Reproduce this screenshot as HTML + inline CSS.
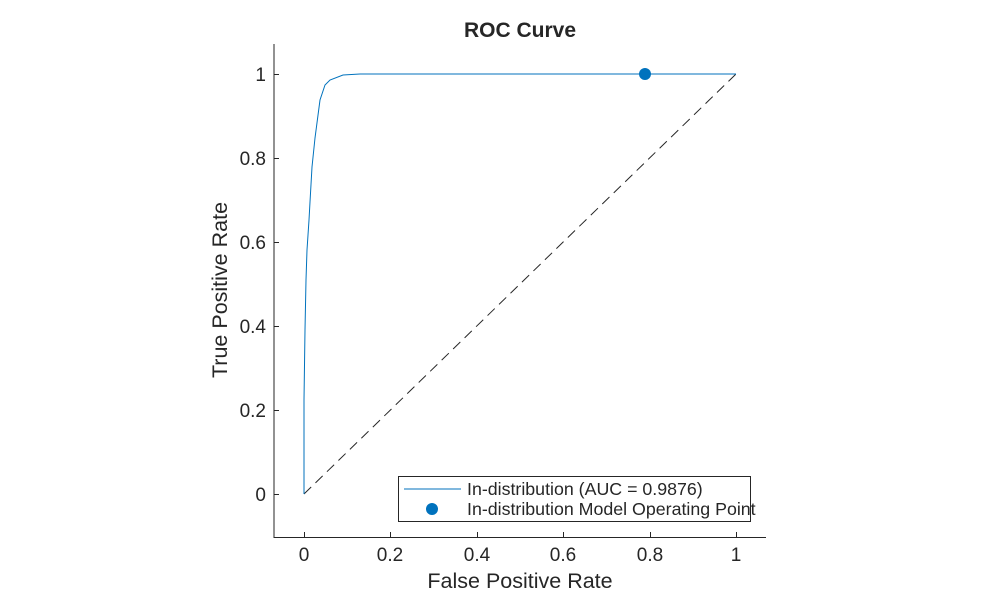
<!DOCTYPE html>
<html><head><style>body{margin:0;background:#fff}svg{display:block}text{font-family:"Liberation Sans",Arial,sans-serif;fill:#262626}</style></head><body>
<svg width="1005" height="604" viewBox="0 0 1005 604">
<rect width="1005" height="604" fill="#fff"/>
<text x="520" y="37" font-size="21" font-weight="bold" text-anchor="middle">ROC Curve</text>
<g stroke="#262626" stroke-width="1" fill="none">
<line x1="274" y1="44" x2="274" y2="537.5"/>
<line x1="273.5" y1="537.5" x2="766" y2="537.5"/>
<line x1="274" y1="74.5" x2="279" y2="74.5"/><line x1="274" y1="158.5" x2="279" y2="158.5"/><line x1="274" y1="242.5" x2="279" y2="242.5"/><line x1="274" y1="326.5" x2="279" y2="326.5"/><line x1="274" y1="410.5" x2="279" y2="410.5"/><line x1="274" y1="494.5" x2="279" y2="494.5"/>
<line x1="304.5" y1="537" x2="304.5" y2="532"/><line x1="390.5" y1="537" x2="390.5" y2="532"/><line x1="477.5" y1="537" x2="477.5" y2="532"/><line x1="563.5" y1="537" x2="563.5" y2="532"/><line x1="650.5" y1="537" x2="650.5" y2="532"/><line x1="736.5" y1="537" x2="736.5" y2="532"/>
</g>
<g font-size="19" text-anchor="end">
<text x="266" y="81">1</text><text x="266" y="165">0.8</text><text x="266" y="249">0.6</text><text x="266" y="333">0.4</text><text x="266" y="417">0.2</text><text x="266" y="501">0</text>
</g>
<g font-size="19" text-anchor="middle">
<text x="304" y="561">0</text><text x="390" y="561">0.2</text><text x="477" y="561">0.4</text><text x="563" y="561">0.6</text><text x="650" y="561">0.8</text><text x="736" y="561">1</text>
</g>
<text x="520" y="588" font-size="21.5" text-anchor="middle">False Positive Rate</text>
<text transform="translate(227,290) rotate(-90)" font-size="21.5" text-anchor="middle">True Positive Rate</text>
<line x1="304" y1="494" x2="736" y2="74" stroke="#262626" stroke-width="1" stroke-dasharray="10,6"/>
<polyline fill="none" stroke="#0072BD" stroke-width="1" points="304,494 304,400 305,330 306,280 307,250 309,220 310,202 312,167 315,138 320,100 325,85 330,80 343,75 360,74 736,74"/>
<circle cx="645" cy="74" r="6" fill="#0072BD"/>
<rect x="398.5" y="476.5" width="352" height="45" fill="#fff" stroke="#262626" stroke-width="1"/>
<line x1="404" y1="489" x2="461" y2="489" stroke="#0072BD" stroke-width="1"/>
<circle cx="432" cy="509" r="6" fill="#0072BD"/>
<text x="467" y="495" font-size="17.8">In-distribution (AUC = 0.9876)</text>
<text x="467" y="515" font-size="17.8">In-distribution Model Operating Point</text>
</svg>
</body></html>
